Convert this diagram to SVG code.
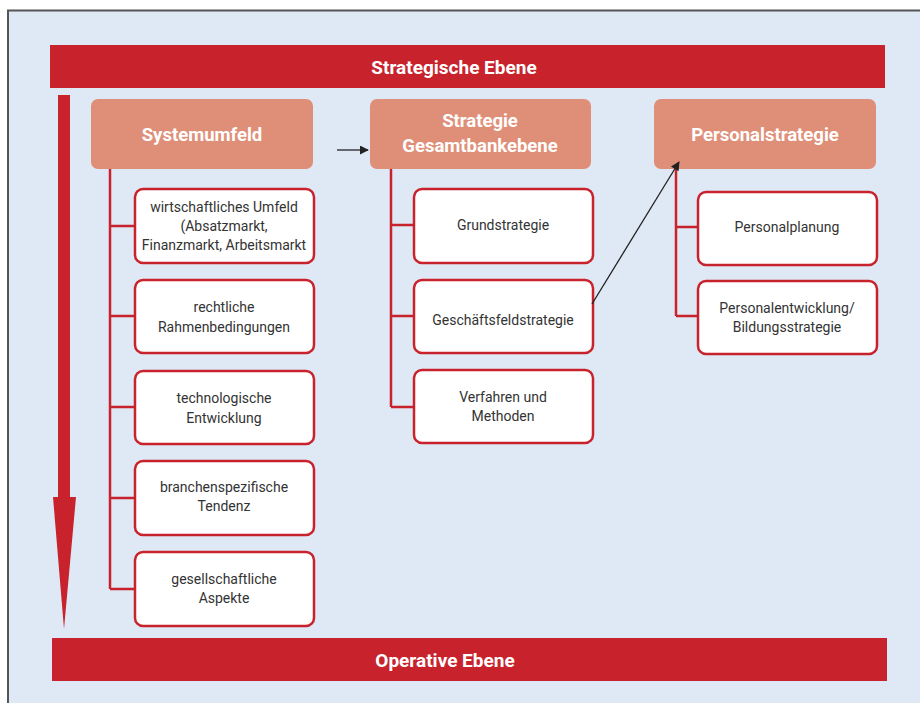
<svg xmlns="http://www.w3.org/2000/svg" width="920" height="703" viewBox="0 0 920 703">
<defs>
<style>
.bar{fill:#c8232c}
.bartxt{font-family:Roboto,"Liberation Sans",sans-serif;font-weight:bold;font-size:19px;fill:#fff;text-anchor:middle}
.head rect{fill:#df8f78}
.head text{font-family:Roboto,"Liberation Sans",sans-serif;font-weight:bold;font-size:18.5px;fill:#fff;text-anchor:middle}
.box rect{fill:#fff;stroke:#c8232c;stroke-width:2.5}
.box text{font-family:Roboto,"Liberation Sans",sans-serif;font-size:14px;fill:#333;text-anchor:middle}
.tree{fill:none;stroke:#c8232c;stroke-width:2.5}
.blk{fill:none;stroke:#222;stroke-width:1.3}
</style>
<marker id="ah" viewBox="0 0 10 10" refX="9" refY="5" markerWidth="9" markerHeight="9" markerUnits="userSpaceOnUse" orient="auto">
<path d="M0,0 L10,5 L0,10 z" fill="#222"/>
</marker>
</defs>
<rect x="0" y="0" width="920" height="703" fill="#fff"/>
<rect x="8" y="10.5" width="920" height="700" fill="#dfe9f5" stroke="#555" stroke-width="2"/>

<g id="strategische-ebene">
<rect class="bar" x="50" y="45" width="835" height="43"/>
<text class="bartxt" x="454" y="73.5">Strategische Ebene</text>
</g>
<g id="operative-ebene">
<rect class="bar" x="52" y="638" width="835" height="43"/>
<text class="bartxt" x="445" y="666.5">Operative Ebene</text>
</g>
<g id="big-arrow">
<path class="bar" d="M58,95 H70 V497 H76 L64,629 L53,497 H58 Z"/>
</g>

<g id="systemumfeld" class="head">
<rect x="91" y="99" width="222" height="70" rx="7"/>
<text x="202" y="140.5">Systemumfeld</text>
</g>
<g id="strategie-gesamtbankebene" class="head">
<rect x="370" y="99" width="221" height="70" rx="7"/>
<text x="480" y="127">Strategie</text>
<text x="480" y="152">Gesamtbankebene</text>
</g>
<g id="personalstrategie" class="head">
<rect x="654" y="99" width="222" height="70" rx="7"/>
<text x="765" y="140.5">Personalstrategie</text>
</g>

<g id="wirtschaftliches-umfeld" class="box">
<rect x="135" y="189" width="179" height="74" rx="8"/>
<text x="224" y="212">wirtschaftliches Umfeld</text>
<text x="224" y="231">(Absatzmarkt,</text>
<text x="224" y="250">Finanzmarkt, Arbeitsmarkt</text>
</g>
<g id="rechtliche" class="box">
<rect x="135" y="280" width="179" height="73" rx="8"/>
<text x="224" y="312">rechtliche</text>
<text x="224" y="332">Rahmenbedingungen</text>
</g>
<g id="technologische" class="box">
<rect x="135" y="371" width="179" height="73" rx="8"/>
<text x="224" y="403">technologische</text>
<text x="224" y="423">Entwicklung</text>
</g>
<g id="branchenspezifische" class="box">
<rect x="135" y="461" width="179" height="74" rx="8"/>
<text x="224" y="492">branchenspezifische</text>
<text x="224" y="511">Tendenz</text>
</g>
<g id="gesellschaftliche" class="box">
<rect x="135" y="552" width="179" height="74" rx="8"/>
<text x="224" y="584">gesellschaftliche</text>
<text x="224" y="603">Aspekte</text>
</g>

<g id="grundstrategie" class="box">
<rect x="414" y="189" width="179" height="74" rx="8"/>
<text x="503" y="230">Grundstrategie</text>
</g>
<g id="geschaeftsfeldstrategie" class="box">
<rect x="414" y="280" width="179" height="73" rx="8"/>
<text x="503" y="325">Geschäftsfeldstrategie</text>
</g>
<g id="verfahren" class="box">
<rect x="414" y="370" width="179" height="73" rx="8"/>
<text x="503" y="402">Verfahren und</text>
<text x="503" y="421">Methoden</text>
</g>

<g id="personalplanung" class="box">
<rect x="698" y="192" width="179" height="73" rx="8"/>
<text x="787" y="232">Personalplanung</text>
</g>
<g id="personalentwicklung" class="box">
<rect x="698" y="281" width="179" height="73" rx="8"/>
<text x="787" y="313">Personalentwicklung/</text>
<text x="787" y="332">Bildungsstrategie</text>
</g>

<g id="connectors">
<path class="tree" d="M110,169 V589 M110,226 H135 M110,316 H135 M110,407 H135 M110,498 H135 M110,589 H135"/>
<path class="tree" d="M391,169 V407 M391,225 H414 M391,316 H414 M391,407 H414"/>
<path class="tree" d="M676,169 V316 M676,227 H698 M676,316 H698"/>
<line class="blk" x1="337" y1="150" x2="368" y2="150" marker-end="url(#ah)"/>
<line class="blk" x1="592" y1="304" x2="679" y2="162" marker-end="url(#ah)"/>
</g>
</svg>
